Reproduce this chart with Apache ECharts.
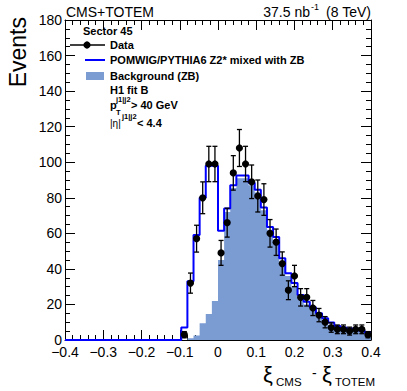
<!DOCTYPE html>
<html>
<head>
<meta charset="utf-8">
<script src="https://cdn.jsdelivr.net/npm/echarts@6/dist/echarts.min.js"></script>
<style>
  html, body { margin: 0; padding: 0; background: #fff; }
  #chart { width: 407px; height: 391px; }
</style>
</head>
<body>
<div id="chart"></div>
<script>
// 50 bins of xi_CMS - xi_TOTEM, from -0.4 to 0.4
const xMin = -0.4
const binWidth = 0.016

// data (null = empty bin, not drawn)
const dataCounts = [
  null, null, null, null, null, null, null, null, null, null,
  null, null, null, null, null, null, null, null, null, 3,
  32, 57, 80, 99, 99, 49, 66, 94, 108, 99,
  89, 81, 79, 60, 55, 43, 28, 36, 24, 24,
  18, 14, 10, 7, 6, 6, 5, 6, 6, 3
]
// POMWIG/PYTHIA6 Z2* mixed with ZB
const mcCounts = [
  0, 0, 0, 0, 0, 0, 0, 0, 0, 0,
  0, 0, 0, 0, 0, 0, 0, 0, 0, 7,
  33, 59, 80, 98, 98, 61.5, 74, 87, 92.5, 92.5,
  88.5, 84.5, 74.5, 63.5, 58, 46, 37.5, 32, 25.3, 21.5,
  18.4, 15, 12.2, 9.8, 7.9, 7.1, 6.5, 6, 5.2, 4.1
]
// Background (ZB)
const bgCounts = [
  0, 0, 0, 0, 0, 0, 0, 0, 0, 0,
  0, 0, 0, 0, 0, 0, 0, 0, 0, 0,
  1, 2.5, 9.4, 14.6, 22, 45, 72, 85.5, 91, 91,
  87, 83, 73, 62, 56, 44, 36, 30, 23.5, 20,
  17, 13.5, 11, 8.5, 7, 6.2, 5.7, 5.2, 4.5, 3.5
]

const FONT = '"Liberation Sans", Arial, Helvetica, sans-serif'

// histogram outline: one point per lower bin edge + closing point
function toSteps(arr) {
  const pts = arr.map((v, i) => [+(xMin + i * binWidth).toFixed(6), v])
  pts.push([+(xMin + arr.length * binWidth).toFixed(6), arr[arr.length - 1]])
  return pts
}

const dataPoints = []
dataCounts.forEach((v, i) => {
  if (v !== null) dataPoints.push([+(xMin + (i + 0.5) * binWidth).toFixed(6), v])
})

const chart = echarts.init(document.getElementById('chart'), null, { renderer: 'svg' })

const tickLine = { color: '#000', width: 1 }
function xAx(pos, labels) {
  return {
    type: 'value', position: pos, min: -0.4, max: 0.4, interval: 0.1,
    axisLine: { show: true, onZero: false, lineStyle: tickLine },
    axisTick: { show: true, inside: true, length: 10, lineStyle: tickLine },
    minorTick: { show: true, splitNumber: 5, length: 5, lineStyle: tickLine },
    splitLine: { show: false },
    axisLabel: {
      show: labels, fontSize: 14, fontFamily: FONT, color: '#000', margin: 5,
      formatter: v => String(Math.round(v * 10) / 10).replace('-', '\u2212')
    }
  }
}
function yAx(pos, labels) {
  return {
    type: 'value', position: pos, min: 0, max: 180, interval: 20,
    axisLine: { show: true, onZero: false, lineStyle: tickLine },
    axisTick: { show: true, inside: true, length: 10, lineStyle: tickLine },
    minorTick: { show: true, splitNumber: 4, length: 5, lineStyle: tickLine },
    splitLine: { show: false },
    axisLabel: { show: labels, fontSize: 14, fontFamily: FONT, color: '#000', margin: 3 }
  }
}

function txt(x, y, text, size, opts) {
  return {
    type: 'text', x: x, y: y, z: 100,
    style: Object.assign({
      text: text, fontSize: size, fontFamily: FONT, fill: '#000',
      align: 'left', verticalAlign: 'middle'
    }, opts || {})
  }
}
const B = { fontWeight: 'bold' }

const option = {
  animation: false,
  grid: { left: 65, right: 36, top: 20, bottom: 51 },
  xAxis: [xAx('bottom', true), xAx('top', false)],
  yAxis: [yAx('left', true), yAx('right', false)],
  series: [
    {
      name: 'Background (ZB)', type: 'line', step: 'end',
      data: toSteps(bgCounts), symbol: 'none',
      lineStyle: { width: 0 },
      areaStyle: { color: '#7b9bd3', opacity: 1 },
      z: 1
    },
    {
      name: 'POMWIG/PYTHIA6 Z2* mixed with ZB', type: 'line', step: 'end',
      data: toSteps(mcCounts), symbol: 'none',
      lineStyle: { color: '#0000ff', width: 2 },
      z: 2
    },
    {
      name: 'Data', type: 'custom', data: dataPoints, z: 3,
      renderItem(params, api) {
        const x = api.value(0), v = api.value(1), e = Math.sqrt(v)
        const c = api.coord([x, v]), t = api.coord([x, v + e]), b = api.coord([x, v - e])
        const st = { stroke: '#000', lineWidth: 1.3 }
        return {
          type: 'group',
          children: [
            { type: 'line', shape: { x1: c[0], y1: t[1], x2: c[0], y2: b[1] }, style: st },
            { type: 'line', shape: { x1: c[0] - 2.5, y1: t[1], x2: c[0] + 2.5, y2: t[1] }, style: st },
            { type: 'line', shape: { x1: c[0] - 2.5, y1: b[1], x2: c[0] + 2.5, y2: b[1] }, style: st },
            { type: 'circle', shape: { cx: c[0], cy: c[1], r: 3.6 }, style: { fill: '#000' } }
          ]
        }
      }
    }
  ],
  graphic: [
    // header
    txt(66, 12, 'CMS+TOTEM', 14),
    txt(310, 12, '37.5 nb', 14, { align: 'right' }),
    txt(311, 7, '-1', 9),
    txt(371, 12, ' (8 TeV)', 14, { align: 'right' }),
    // axis titles
    Object.assign(txt(18, 17, 'Events', 23, { align: 'right' }), { rotation: Math.PI / 2 }),
    txt(263, 374, '\u03be', 22),
    txt(276, 382, 'CMS', 11.5),
    txt(312, 373, '-', 14),
    txt(322, 374, '\u03be', 22),
    txt(335, 382, 'TOTEM', 11.5),
    // legend
    txt(83, 31, 'Sector 45', 11, B),
    { type: 'line', shape: { x1: 70, y1: 45, x2: 105, y2: 45 }, style: { stroke: '#000', lineWidth: 1.3 }, z: 100 },
    { type: 'circle', shape: { cx: 87, cy: 45, r: 3.6 }, style: { fill: '#000' }, z: 100 },
    txt(110, 45, 'Data', 11, B),
    { type: 'line', shape: { x1: 85, y1: 60, x2: 105, y2: 60 }, style: { stroke: '#0000ff', lineWidth: 2 }, z: 100 },
    txt(110, 60, 'POMWIG/PYTHIA6 Z2* mixed with ZB', 11, B),
    { type: 'rect', shape: { x: 86, y: 72, width: 18, height: 8 }, style: { fill: '#7b9bd3' }, z: 100 },
    txt(110, 76, 'Background (ZB)', 11, B),
    txt(110, 90, 'H1 fit B', 11, B),
    txt(110, 105, 'p', 11, B),
    txt(116, 99, 'j1|j2', 7.5, B),
    txt(116, 112, 'T', 7.5, B),
    txt(131, 105, '> 40 GeV', 11, B),
    txt(110, 123, '|\u03b7|', 10),
    txt(122, 116.5, 'j1|j2', 7.5, B),
    txt(137, 123, '< 4.4', 11, B)
  ]
}
chart.setOption(option)
</script>
</body>
</html>
